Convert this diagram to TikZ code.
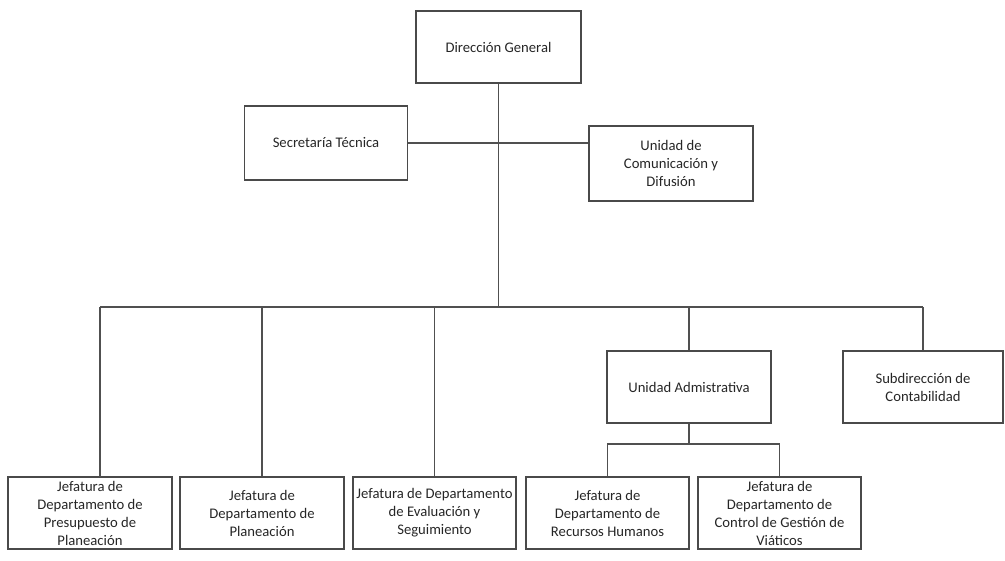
\documentclass[tikz,border=0pt]{standalone}
\usepackage{fontspec}
\setmainfont{Carlito}
\definecolor{boxline}{HTML}{4A4A4A}
\definecolor{conn}{HTML}{505050}
\definecolor{txt}{HTML}{262626}
\begin{document}
\begin{tikzpicture}[x=0.75pt,y=-0.75pt,
  box/.style={draw=boxline,line width=0.8pt,rectangle,inner sep=0pt,align=center,
    text=txt,font=\fontsize{11pt}{13.5pt}\selectfont,minimum height=54pt},
  link/.style={draw=conn,line width=0.9pt}]
\useasboundingbox (0,0) rectangle (1005,560);
\node[box,minimum width=123.75pt,minimum height=54pt] (dg) at (498.5,47) {Dirección General};
\node[box,minimum width=122.25pt,minimum height=55.5pt] (st) at (326,143) {Secretaría Técnica};
\node[box,minimum width=123pt,minimum height=56.25pt] (ucd) at (671,163.5) {Unidad de\\Comunicación y\\Difusión};
\node[box,minimum width=123pt] (ua) at (689,387) {Unidad Admistrativa};
\node[box,minimum width=120pt] (sub) at (923,387) {Subdirección de\\Contabilidad};
\node[box,minimum width=123pt] (b1) at (90,513) {Jefatura de\\Departamento de\\Presupuesto de\\Planeación};
\node[box,minimum width=123pt] (b2) at (262,513) {Jefatura de\\Departamento de\\Planeación};
\node[box,minimum width=122.25pt] (b3) at (434.5,513) {Jefatura de Departamento\\de Evaluación y\\Seguimiento};
\node[box,minimum width=122.25pt] (b4) at (607.5,513) {Jefatura de\\Departamento de\\Recursos Humanos};
\node[box,minimum width=122.25pt] (b5) at (779.5,513) {Jefatura de\\Departamento de\\Control de Gestión de\\Viáticos};
\coordinate (bus) at (498.5,307);
\coordinate (busL) at (100,307);
\coordinate (busR) at (923,307);
\coordinate (b1top) at (100,477);
\coordinate (uabus) at (689,444);
% connectors
\draw[link] (dg.south) -- (bus);
\draw[link] (st.east) -- (st.east -| ucd.west);
\draw[link] (busL) -- (busR);
\draw[link] (busL) -- (b1top);
\draw[link] (b2.north) -- (b2.north |- bus);
\draw[link] (b3.north) -- (b3.north |- bus);
\draw[link] (ua.north) -- (ua.north |- bus);
\draw[link] (sub.north) -- (busR);
\draw[link] (ua.south) -- (uabus);
\draw[link] (b4.north) -- (b4.north |- uabus) -- (b5.north |- uabus) -- (b5.north);
\end{tikzpicture}
\end{document}
